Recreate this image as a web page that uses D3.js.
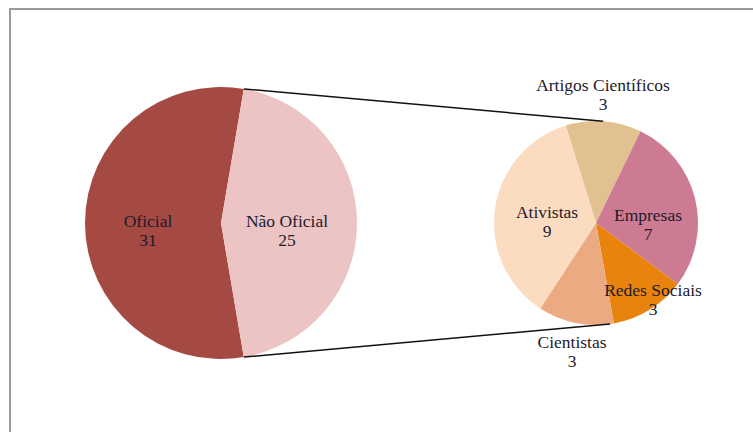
<!DOCTYPE html>
<html>
<head>
<meta charset="utf-8">
<script src="https://cdn.jsdelivr.net/npm/d3@7"></script>
<style>
  body { margin: 0; background: #fff; }
  svg { display: block; }
</style>
</head>
<body>
<svg width="753" height="432"></svg>
<script>
// main pie
const mainLabels = ["Oficial", "Não Oficial"];
const mainValues = [31, 25];
const mainColors = ["#a54a43", "#ebc4c3"];

// secondary pie (breakdown of "Não Oficial")
const subLabels = ["Artigos Científicos", "Empresas", "Redes Sociais", "Cientistas", "Ativistas"];
const subValues = [3, 7, 3, 3, 9];
const subColors = ["#e2c190", "#cd7b92", "#e8830d", "#ebaa82", "#fcdcc0"];

const svg = d3.select("svg");

// frame
svg.append("rect")
    .attr("x", 10).attr("y", 9)
    .attr("width", 800).attr("height", 500)
    .attr("fill", "none")
    .attr("stroke", "#9a9a9a")
    .attr("stroke-width", 2);

const rad = d => d * Math.PI / 180;

// main pie: "Não Oficial" centred on the right side
const mainCx = 221, mainCy = 223, mainR = 136;
const mainTotal = d3.sum(mainValues);
const mainStart = rad(90 - 180 * mainValues[1] / mainTotal) - 2 * Math.PI * mainValues[0] / mainTotal;

const mainPie = d3.pie().sort(null).value(d => d)
    .startAngle(mainStart).endAngle(mainStart + 2 * Math.PI);
const mainArcs = mainPie(mainValues);
const mainArc = d3.arc().innerRadius(0).outerRadius(mainR);

const gMain = svg.append("g").attr("transform", `translate(${mainCx},${mainCy})`);
gMain.selectAll("path").data(mainArcs).enter().append("path")
    .attr("d", mainArc)
    .attr("fill", (d, i) => mainColors[i]);

// secondary pie
const subCx = 596, subCy = 223, subR = 102;
const subStart = rad(-17.3);
const subPie = d3.pie().sort(null).value(d => d)
    .startAngle(subStart).endAngle(subStart + 2 * Math.PI);
const subArcs = subPie(subValues);
const subArc = d3.arc().innerRadius(0).outerRadius(subR);

const gSub = svg.append("g").attr("transform", `translate(${subCx},${subCy})`);
gSub.selectAll("path").data(subArcs).enter().append("path")
    .attr("d", subArc)
    .attr("fill", (d, i) => subColors[i]);

// connector lines
const pt = (cx, cy, r, a) => [cx + r * Math.sin(a), cy - r * Math.cos(a)];
const no = mainArcs[1];
const topA = pt(mainCx, mainCy, mainR, no.startAngle);
const botA = pt(mainCx, mainCy, mainR, no.endAngle);
const topB = pt(subCx, subCy, subR, rad(4));
const botB = pt(subCx, subCy, subR, rad(172));
[[topA, topB], [botA, botB]].forEach(([a, b]) => {
    svg.append("line")
        .attr("x1", a[0]).attr("y1", a[1])
        .attr("x2", b[0]).attr("y2", b[1])
        .attr("stroke", "#111")
        .attr("stroke-width", 1.5);
});

// labels
function label(x, y, name, value) {
    const t = svg.append("text")
        .attr("text-anchor", "middle")
        .attr("font-family", "'Liberation Serif', 'DejaVu Serif', 'Times New Roman', serif")
        .attr("font-size", 17.5)
        .attr("fill", "#1d1b2c");
    t.append("tspan").attr("x", x).attr("y", y).text(name);
    t.append("tspan").attr("x", x).attr("y", y + 19).text(value);
}

const mainPos = [[148, 227], [287, 227]];
mainLabels.forEach((l, i) => label(mainPos[i][0], mainPos[i][1], l, mainValues[i]));

const subPos = [[603, 91], [648, 221], [653, 296], [572, 348], [547, 218]];
subLabels.forEach((l, i) => label(subPos[i][0], subPos[i][1], l, subValues[i]));
</script>
</body>
</html>
